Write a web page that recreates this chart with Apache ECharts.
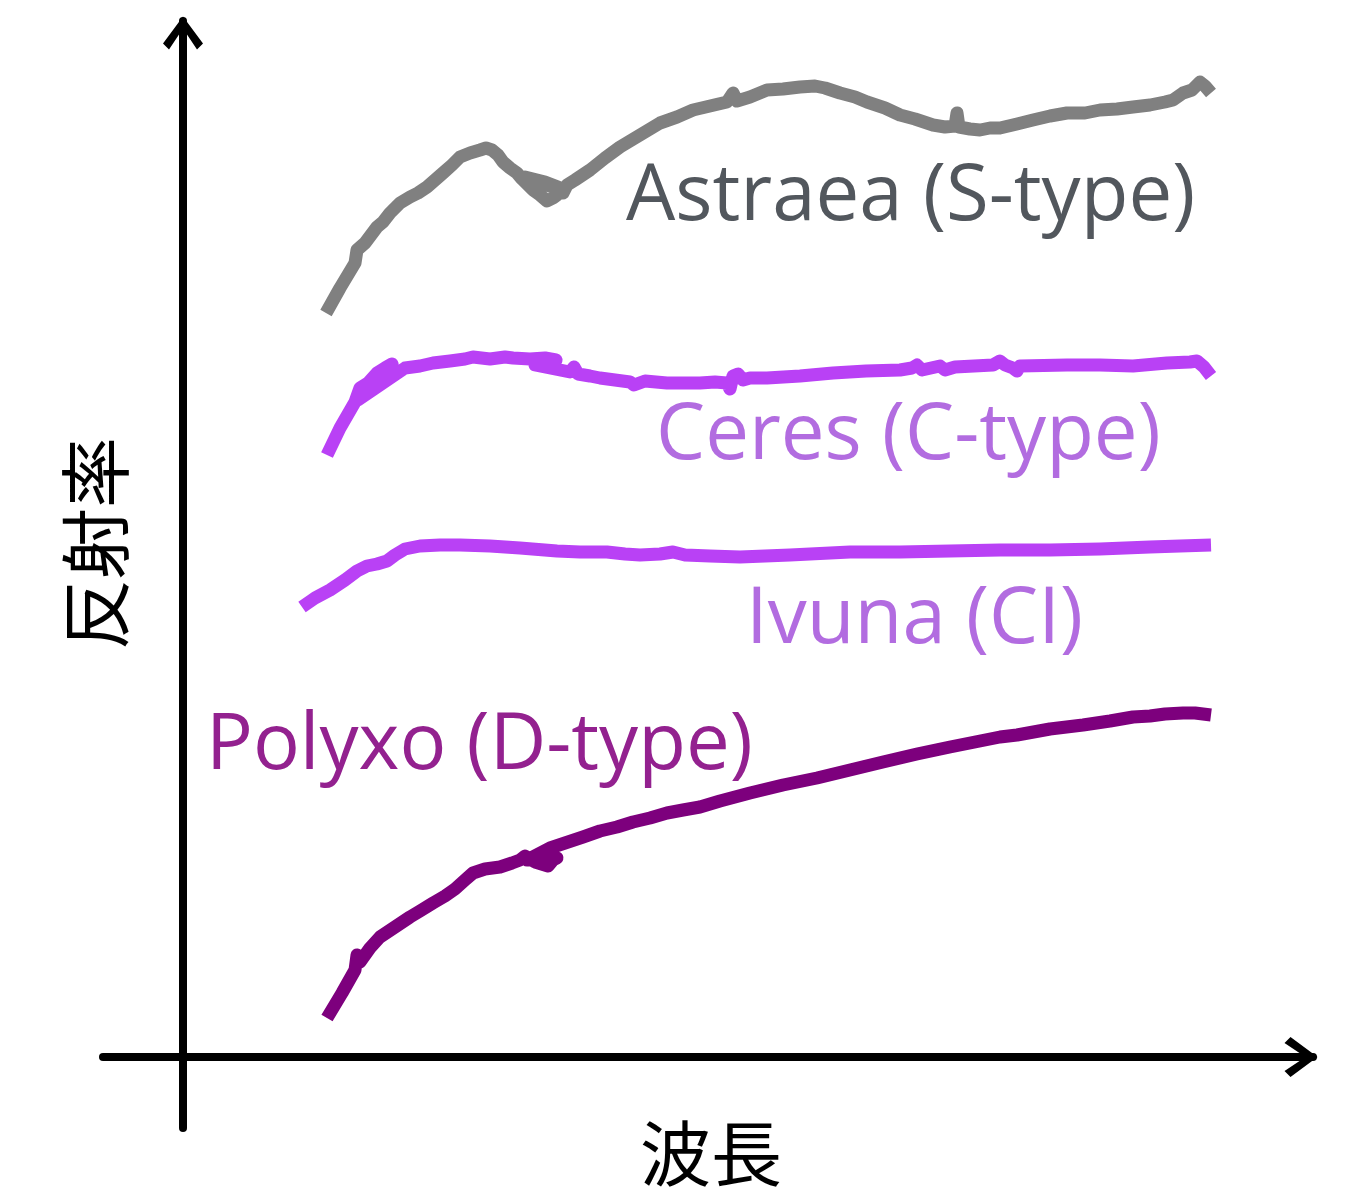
<!DOCTYPE html>
<html>
<head>
<meta charset="utf-8">
<title>反射スペクトル</title>
<script src="https://cdn.jsdelivr.net/npm/echarts@6/dist/echarts.min.js"></script>
<style>
  html, body { margin: 0; padding: 0; background: #ffffff; }
  #chart { width: 1353px; height: 1190px; }
</style>
</head>
<body>
<div id="chart"></div>
<script>
// Reflectance spectra (relative wavelength, reflectance offset for clarity)
// Each point is [wavelength, reflectance].

const astraea = [
  [1.43, 7.44], [1.57, 7.69], [1.72, 7.94], [1.73, 7.95], [1.74, 8.07], [1.82, 8.14],
  [1.94, 8.30], [2.00, 8.35], [2.07, 8.44], [2.17, 8.54], [2.27, 8.60], [2.35, 8.64],
  [2.44, 8.70], [2.52, 8.77], [2.60, 8.84], [2.69, 8.92], [2.77, 9.00], [2.87, 9.04],
  [2.97, 9.07], [3.03, 9.09], [3.09, 9.07], [3.15, 9.02], [3.20, 8.95], [3.27, 8.89],
  [3.34, 8.84], [3.39, 8.78], [3.45, 8.72], [3.50, 8.67], [3.57, 8.62], [3.64, 8.56],
  [3.70, 8.59], [3.74, 8.62], [3.77, 8.67], [3.42, 8.80], [3.62, 8.75], [3.75, 8.70],
  [3.80, 8.64], [3.84, 8.72], [3.92, 8.77], [4.07, 8.87], [4.22, 8.99], [4.37, 9.10],
  [4.57, 9.22], [4.77, 9.34], [4.94, 9.40], [5.10, 9.47], [5.27, 9.51], [5.44, 9.55],
  [5.50, 9.64], [5.54, 9.56], [5.67, 9.60], [5.84, 9.67], [6.00, 9.68], [6.17, 9.70],
  [6.32, 9.71], [6.42, 9.69], [6.57, 9.64], [6.72, 9.60], [6.84, 9.55], [7.02, 9.49],
  [7.17, 9.42], [7.32, 9.38], [7.50, 9.32], [7.62, 9.30], [7.72, 9.31], [7.74, 9.44],
  [7.76, 9.30], [7.87, 9.28], [7.97, 9.27], [8.07, 9.29], [8.17, 9.29], [8.34, 9.33],
  [8.50, 9.37], [8.67, 9.41], [8.84, 9.44], [9.02, 9.44], [9.17, 9.47], [9.34, 9.48],
  [9.50, 9.50], [9.67, 9.52], [9.82, 9.55], [9.90, 9.57], [10.00, 9.64], [10.09, 9.67],
  [10.17, 9.75], [10.22, 9.71], [10.28, 9.64]
];

const ceres = [
  [1.44, 6.02], [1.57, 6.29], [1.72, 6.55], [1.77, 6.69], [1.85, 6.74], [1.94, 6.84],
  [2.02, 6.89], [2.09, 6.93], [1.75, 6.57], [2.22, 6.89], [2.37, 6.91], [2.50, 6.94],
  [2.67, 6.96], [2.82, 6.98], [2.90, 7.00], [3.07, 6.98], [3.22, 7.00], [3.30, 6.99],
  [3.47, 6.98], [3.62, 6.99], [3.73, 6.97], [3.52, 6.92], [3.77, 6.87], [3.87, 6.85],
  [3.91, 6.90], [3.95, 6.83], [4.07, 6.81], [4.17, 6.79], [4.32, 6.77], [4.47, 6.75],
  [4.51, 6.72], [4.62, 6.76], [4.84, 6.74], [5.02, 6.74], [5.17, 6.74], [5.32, 6.75],
  [5.44, 6.74], [5.47, 6.68], [5.50, 6.81], [5.55, 6.83], [5.60, 6.77], [5.67, 6.79],
  [5.84, 6.79], [6.17, 6.81], [6.50, 6.84], [6.83, 6.86], [7.17, 6.87], [7.29, 6.89],
  [7.34, 6.92], [7.39, 6.87], [7.57, 6.91], [7.62, 6.87], [7.72, 6.90], [8.10, 6.92],
  [8.17, 6.96], [8.22, 6.92], [8.30, 6.89], [8.34, 6.86], [8.37, 6.91], [8.84, 6.92],
  [9.17, 6.92], [9.50, 6.91], [9.84, 6.94], [10.07, 6.95], [10.14, 6.96], [10.21, 6.90],
  [10.28, 6.81]
];

const ivuna = [
  [1.19, 4.50], [1.32, 4.59], [1.47, 4.67], [1.62, 4.77], [1.74, 4.86], [1.84, 4.91],
  [1.94, 4.93], [2.04, 4.96], [2.12, 5.02], [2.22, 5.08], [2.37, 5.11], [2.57, 5.12],
  [2.77, 5.12], [3.07, 5.11], [3.37, 5.09], [3.74, 5.06], [3.97, 5.05], [4.24, 5.05],
  [4.42, 5.03], [4.57, 5.02], [4.77, 5.03], [4.90, 5.05], [5.02, 5.02], [5.27, 5.01],
  [5.57, 5.00], [6.07, 5.02], [6.67, 5.05], [7.17, 5.05], [7.67, 5.06], [8.17, 5.07],
  [8.67, 5.07], [9.17, 5.08], [9.67, 5.10], [9.97, 5.11], [10.28, 5.12]
];

const polyxo = [
  [1.44, 0.39], [1.59, 0.64], [1.72, 0.87], [1.74, 1.02], [1.77, 0.95], [1.87, 1.09],
  [1.97, 1.20], [2.12, 1.30], [2.27, 1.40], [2.37, 1.46], [2.50, 1.54], [2.62, 1.61],
  [2.72, 1.68], [2.82, 1.77], [2.90, 1.84], [3.02, 1.88], [3.17, 1.90], [3.29, 1.94],
  [3.37, 1.97], [3.42, 2.01], [3.52, 1.95], [3.65, 1.91], [3.70, 1.97], [3.74, 1.99],
  [3.44, 1.97], [3.67, 2.09], [3.82, 2.14], [4.00, 2.20], [4.17, 2.26], [4.34, 2.30],
  [4.50, 2.35], [4.67, 2.39], [4.84, 2.44], [5.00, 2.47], [5.17, 2.50], [5.37, 2.56],
  [5.67, 2.64], [6.00, 2.72], [6.34, 2.79], [6.67, 2.87], [7.00, 2.95], [7.34, 3.03],
  [7.67, 3.10], [7.92, 3.15], [8.17, 3.20], [8.34, 3.22], [8.67, 3.28], [9.00, 3.32],
  [9.27, 3.36], [9.50, 3.40], [9.67, 3.41], [9.82, 3.43], [10.00, 3.44], [10.12, 3.44],
  [10.28, 3.42]
];

const seriesNames = ['Astraea (S-type)', 'Ceres (C-type)', 'Ivuna (CI)', 'Polyxo (D-type)'];
const xAxisName = '波長';
const yAxisName = '反射率';

// open chevron used as the arrow head on both axes
const arrowHead = 'path://M20,0 L40,27 L34,33 L20,12 L6,33 L0,27 Z';

const lineColors = ['#808080', '#b941f5', '#b941f5', '#7d007d'];
const labelColors = ['#52575d', '#b26ce0', '#b26ce0', '#93218f'];
const labelFont = '"Open Sans", "DejaVu Sans", sans-serif';
const cjkFont = '"Noto Sans CJK JP", "Noto Sans CJK SC", sans-serif';

const chart = echarts.init(document.getElementById('chart'), null, { renderer: 'canvas' });

function spectrum(name, data, color) {
  return {
    name: name,
    type: 'line',
    data: data,
    showSymbol: false,
    symbol: 'none',
    smooth: false,
    clip: false,
    lineStyle: { color: color, width: 13, cap: 'butt', join: 'round' },
    emphasis: { disabled: true }
  };
}

function seriesLabel(text, left, top, color) {
  return {
    type: 'text',
    left: left,
    top: top,
    silent: true,
    style: {
      text: text,
      fill: color,
      font: '78px ' + labelFont
    }
  };
}

const option = {
  backgroundColor: '#ffffff',
  animation: false,
  grid: { left: 103, right: 40, top: 21, bottom: 62, containLabel: false, outerBoundsMode: 'none' },
  xAxis: {
    type: 'value',
    min: -0.8,
    max: 11.3,
    name: xAxisName,
    nameLocation: 'middle',
    nameGap: -10,
    nameTextStyle: { fontFamily: cjkFont, fontSize: 71, color: '#000000', padding: [0, 0, 0, 6] },
    axisLine: {
      show: true,
      onZero: true,
      symbol: ['none', arrowHead],
      symbolSize: [40, 33],
      symbolOffset: [0, -12],
      lineStyle: { color: '#000000', width: 8 }
    },
    axisTick: { show: false },
    axisLabel: { show: false },
    splitLine: { show: false }
  },
  yAxis: {
    type: 'value',
    min: -0.71,
    max: 10.36,
    name: yAxisName,
    nameLocation: 'middle',
    nameRotate: 90,
    nameGap: -28,
    nameTextStyle: { fontFamily: cjkFont, fontSize: 71, color: '#000000', padding: [0, 0, 0, 62] },
    axisLine: {
      show: true,
      onZero: true,
      symbol: ['none', arrowHead],
      symbolSize: [40, 33],
      symbolOffset: [0, -12],
      lineStyle: { color: '#000000', width: 8 }
    },
    axisTick: { show: false },
    axisLabel: { show: false },
    splitLine: { show: false }
  },
  series: [
    spectrum(seriesNames[0], astraea, lineColors[0]),
    spectrum(seriesNames[1], ceres, lineColors[1]),
    spectrum(seriesNames[2], ivuna, lineColors[2]),
    spectrum(seriesNames[3], polyxo, lineColors[3])
  ],
  graphic: [
    seriesLabel(seriesNames[0], 626, 159, labelColors[0]),
    seriesLabel(seriesNames[1], 656, 398, labelColors[1]),
    seriesLabel(seriesNames[2], 746, 582, labelColors[2]),
    seriesLabel(seriesNames[3], 206, 708, labelColors[3])
  ]
};

chart.setOption(option);
</script>
</body>
</html>
